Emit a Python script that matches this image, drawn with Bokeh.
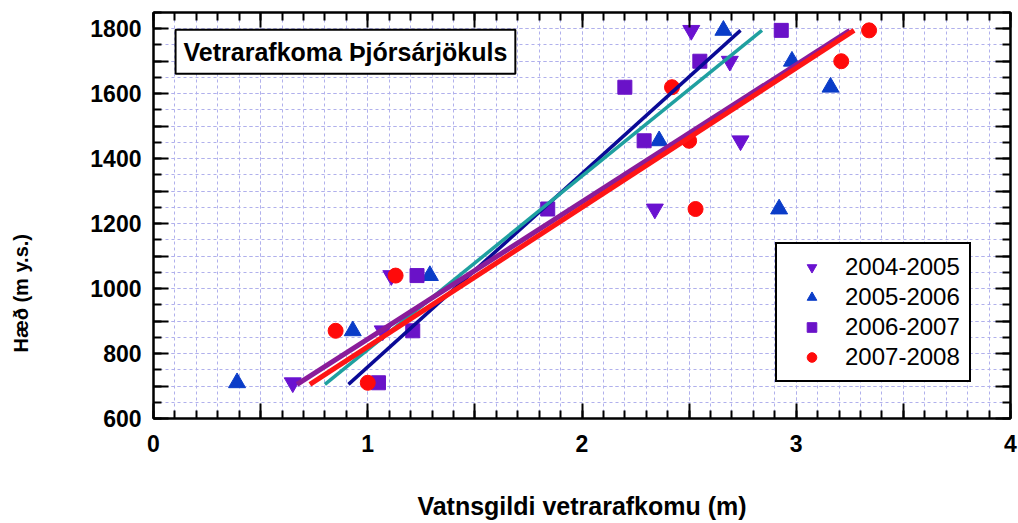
from bokeh.plotting import figure
from bokeh.models import (Range1d, FixedTicker, LinearAxis, Label, Legend, LegendItem)
from bokeh.embed import file_html
from bokeh.resources import INLINE

# ---- data ----
series_names = ["2004-2005", "2005-2006", "2006-2007", "2007-2008"]
elev = [710, 870, 1040, 1245, 1455, 1620, 1700, 1795]

s0405_y = [710, 870, 1040, 1245, 1455, 1700, 1795]
s0405_x = [0.65, 1.07, 1.11, 2.34, 2.74, 2.69, 2.51]
s0506_x = [0.39, 0.93, 1.29, 2.92, 2.36, 3.16, 2.98, 2.66]
s0607_x = [1.05, 1.21, 1.23, 1.84, 2.29, 2.20, 2.55, 2.93]
s0708_x = [1.00, 0.85, 1.13, 2.53, 2.50, 2.42, 3.21, 3.34]

fit_y = [705, 1795]
fit_navy_x = [0.91, 2.74]
fit_teal_x = [0.80, 2.84]
fit_purple_x = [0.67, 3.25]
fit_red_x = [0.73, 3.27]

x_major = [0, 0.5, 1, 1.5, 2, 2.5, 3, 3.5, 4]
x_labels = {0: "0", 0.5: "", 1: "1", 1.5: "", 2: "2", 2.5: "", 3: "3", 3.5: "", 4: "4"}
y_major = [600, 700, 800, 900, 1000, 1100, 1200, 1300, 1400, 1500, 1600, 1700, 1800]
y_labels = {v: (str(v) if v % 200 == 0 else "") for v in y_major}

title_text = "Vetrarafkoma Þjórsárjökuls"
xlabel = "Vatnsgildi vetrarafkomu (m)"
ylabel = "Hæð (m y.s.)"

FONT = "Liberation Sans"
GRID = "#b0b0ec"

p = figure(width=1018, height=523, output_backend="svg", toolbar_location=None,
           x_range=Range1d(0, 4), y_range=Range1d(600, 1850),
           min_border_left=153, min_border_right=8, min_border_top=12, min_border_bottom=105,
           background_fill_color="white", border_fill_color="white")
p.outline_line_color = "black"
p.outline_line_width = 2

x_minor = [round(i * 0.1, 2) for i in range(41)]
y_minor = list(range(600, 1851, 50))
xt = FixedTicker(ticks=x_major, minor_ticks=x_minor)
yt = FixedTicker(ticks=y_major, minor_ticks=y_minor)

def style_axis(ax, ticker, labels, show):
    ax.ticker = ticker
    ax.axis_line_color = "black"
    ax.axis_line_width = 2
    ax.major_tick_line_width = 2
    ax.minor_tick_line_width = 2
    ax.major_tick_in = 15
    ax.major_tick_out = 0
    ax.minor_tick_in = 8
    ax.minor_tick_out = 0
    ax.major_label_overrides = labels
    if show:
        ax.major_label_text_font = FONT
        ax.major_label_text_font_style = "bold"
        ax.major_label_text_font_size = "23px"
        ax.major_label_text_color = "black"
    else:
        ax.major_label_text_font_size = "0px"
        ax.major_label_standoff = 0

xa = p.xaxis[0]
ya = p.yaxis[0]
style_axis(xa, xt, x_labels, True)
style_axis(ya, yt, y_labels, True)
xa.major_label_standoff = 16
ya.major_label_standoff = 12
xa.axis_label = xlabel
xa.axis_label_text_font_size = "25px"
xa.axis_label_standoff = 37
# the y label sits below the middle of the axis in the reference: pad its end
ya.axis_label = ylabel + "\u00a0" * 28
ya.axis_label_text_font_size = "20px"
ya.axis_label_standoff = 55
for ax in (xa, ya):
    ax.axis_label_text_font = FONT
    ax.axis_label_text_font_style = "bold"
    ax.axis_label_text_color = "black"

top = LinearAxis()
style_axis(top, xt, {v: "" for v in x_major}, False)
p.add_layout(top, "above")
right = LinearAxis()
style_axis(right, yt, {v: "" for v in y_major}, False)
p.add_layout(right, "right")

for g in (p.xgrid[0], p.ygrid[0]):
    g.grid_line_color = GRID
    g.grid_line_dash = "3 3"
    g.grid_line_width = 1
    g.minor_grid_line_color = GRID
    g.minor_grid_line_dash = "3 3"
    g.minor_grid_line_width = 1
p.xgrid[0].ticker = xt
p.ygrid[0].ticker = yt

# markers
r1 = p.scatter(s0405_x, s0405_y, marker="inverted_triangle", size=17, color="#6a12d0")
r2 = p.scatter(s0506_x, elev, marker="triangle", size=17, color="#0a3cc8")
r3 = p.scatter(s0607_x, elev, marker="square", size=14, color="#6a12c8")
r4 = p.scatter(s0708_x, elev, marker="circle", size=15, color="#ff0a0a")

# fit lines
p.line(fit_navy_x, fit_y, line_color="#0a0a96", line_width=3.5)
p.line(fit_teal_x, fit_y, line_color="#1fa0a0", line_width=3.5)
p.line(fit_purple_x, fit_y, line_color="#8a1c9a", line_width=5)
p.line(fit_red_x, fit_y, line_color="#ff1515", line_width=5)

legend = Legend(items=[LegendItem(label=n, renderers=[r]) for n, r in zip(series_names, [r1, r2, r3, r4])],
                location=(622, 36))
legend.label_text_font = FONT
legend.label_text_font_size = "24px"
legend.label_text_color = "black"
legend.border_line_color = "black"
legend.border_line_width = 2
legend.border_line_alpha = 1
legend.background_fill_color = "white"
legend.background_fill_alpha = 1
legend.padding = 9
legend.margin = 0
legend.spacing = 2
legend.glyph_width = 51
legend.glyph_height = 24
legend.label_height = 24
legend.label_standoff = 8
p.add_layout(legend, "center")

title = Label(x=0.103, y=1729, text=title_text, text_font=FONT, text_font_style="bold",
              text_font_size="25px", text_baseline="middle", text_align="left",
              text_color="black", border_line_color="black", border_line_width=2,
              background_fill_color="white", padding=8)
p.add_layout(title)

open("out.html", "w").write(file_html(p, INLINE))
